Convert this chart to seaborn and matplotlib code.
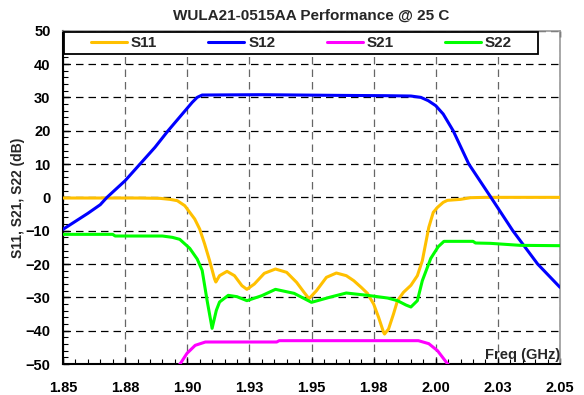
import numpy as np
import pandas as pd
import seaborn as sns
import matplotlib
matplotlib.use("Agg")
import matplotlib.pyplot as plt
from matplotlib.patches import Rectangle
from matplotlib.ticker import MultipleLocator, FixedLocator

# S-parameter data (freq in GHz, value in dB)
s11_freq = [1.85, 1.86, 1.87, 1.88, 1.889, 1.893, 1.896, 1.899, 1.901, 1.903, 1.905,
            1.907, 1.909, 1.911, 1.9115, 1.913, 1.916, 1.919, 1.922, 1.924, 1.927,
            1.931, 1.9355, 1.940, 1.944, 1.947, 1.949, 1.952, 1.956, 1.960, 1.964,
            1.967, 1.970, 1.9725, 1.975, 1.977, 1.979, 1.9794, 1.981, 1.983, 1.9846,
            1.987, 1.990, 1.9926, 1.9946, 1.9972, 1.999, 2.0007, 2.003, 2.0047, 2.01,
            2.014, 2.02, 2.05]
s11_db = [-0.2, -0.2, -0.2, -0.2, -0.3, -0.6, -1.0, -2.5, -4.5, -6.5, -9.5,
          -14, -19, -24.5, -25.4, -23.5, -22.2, -23.5, -26.5, -27.6, -26,
          -22.8, -21.5, -22.5, -25.5, -28.5, -30.4, -28, -24, -22.7, -23.5,
          -25, -27, -28.8, -32, -36, -40.5, -41, -39.5, -35, -31,
          -28.5, -26.4, -23.5, -19, -9, -4.5, -3.0, -1.5, -0.9, -0.6,
          -0.1, 0, 0]

s12_freq = [1.85, 1.855, 1.86, 1.865, 1.8677, 1.875, 1.881, 1.887, 1.8923, 1.898,
            1.902, 1.904, 1.906, 1.93, 1.96, 1.98, 1.99, 1.994, 1.997, 2.0, 2.003,
            2.007, 2.0133, 2.0222, 2.031, 2.041, 2.05]
s12_db = [-9.6, -7.2, -4.8, -2.2, 0, 5, 10, 15, 20, 25,
          28.5, 30, 30.7, 30.8, 30.6, 30.5, 30.4, 30.0, 29, 27.5, 25,
          20, 10, 0, -10, -20, -27]

s21_freq = [1.896, 1.8972, 1.8999, 1.9032, 1.9073, 1.936, 1.937, 1.993, 1.9972,
            2.0007, 2.0047, 2.006]
s21_db = [-51, -49.9, -46.8, -44.4, -43.4, -43.4, -43.0, -43.0, -43.9,
          -46, -49.9, -51]

s22_freq = [1.85, 1.870, 1.871, 1.89, 1.894, 1.897, 1.901, 1.904, 1.906, 1.908,
            1.910, 1.9117, 1.913, 1.9165, 1.920, 1.924, 1.930, 1.9355, 1.943,
            1.950, 1.9577, 1.964, 1.9725, 1.9806, 1.9846, 1.988, 1.990, 1.9926,
            1.9946, 1.998, 2.001, 2.0033, 2.015, 2.016, 2.022, 2.034, 2.05]
s22_db = [-11.1, -11.1, -11.6, -11.6, -12.0, -12.6, -15.3, -18.5, -21.9, -31,
          -39.3, -33.9, -31.4, -29.4, -29.8, -31, -29.5, -27.6, -28.8,
          -31.5, -29.9, -28.7, -29.4, -30.2, -31, -32.3, -32.9, -31,
          -25, -18.3, -14.8, -13.2, -13.2, -13.7, -13.8, -14.4, -14.5]

x_ticks = [1.85, 1.875, 1.9, 1.925, 1.95, 1.975, 2.0, 2.025, 2.05]
x_tick_labels = ["1.85", "1.88", "1.90", "1.93", "1.95", "1.98", "2.00", "2.03", "2.05"]

sns.set_theme(style="white")
plt.rcParams['font.family'] = ['Liberation Sans', 'DejaVu Sans']
plt.rcParams['font.weight'] = 'bold'

fig = plt.figure(figsize=(5.84, 3.95), dpi=100)
ax = fig.add_axes([63/584, 31/395, 497/584, 333.3/395])

series = [("S11", s11_freq, s11_db, "#FFC000"),
          ("S12", s12_freq, s12_db, "#0000FF"),
          ("S21", s21_freq, s21_db, "#FF00FF"),
          ("S22", s22_freq, s22_db, "#00FF00")]

for name, f, v, c in series:
    df = pd.DataFrame({"freq": f, "db": v})
    sns.lineplot(data=df, x="freq", y="db", color=c, linewidth=2.2,
                 label=name, estimator=None, sort=False, ax=ax, zorder=5)

ax.set_xlim(1.85, 2.05)
ax.set_ylim(-50, 50)
ax.xaxis.set_major_locator(FixedLocator(x_ticks))
ax.set_xticklabels(x_tick_labels, fontsize=10.5, fontweight='bold')
ax.xaxis.set_minor_locator(MultipleLocator(0.005))
ax.yaxis.set_major_locator(MultipleLocator(10))
ax.yaxis.set_minor_locator(MultipleLocator(2))
for lab in ax.get_yticklabels():
    lab.set_fontsize(10.5)
    lab.set_fontweight('bold')

ax.tick_params(which='both', direction='in', bottom=True, left=True, colors='black')
ax.tick_params(axis='x', which='major', length=4, width=1, pad=12, top=True)
ax.tick_params(axis='y', which='major', length=4, width=1, pad=9)
ax.tick_params(which='minor', length=3.5, width=0.8)

ax.grid(axis='y', which='major', color='black', linestyle=(0, (6, 4)), linewidth=0.9)
ax.grid(axis='x', which='major', color='0.4', linestyle=(0, (6, 4)), linewidth=0.9)
ax.set_axisbelow(True)

for side in ['left', 'bottom']:
    ax.spines[side].set_color('black')
    ax.spines[side].set_linewidth(1.5)
for side in ['top', 'right']:
    ax.spines[side].set_color('0.6')
    ax.spines[side].set_linewidth(1.2)

ax.set_xlabel('')
ax.set_ylabel('S11, S21, S22 (dB)', fontsize=10, fontweight='bold')
ax.yaxis.set_label_coords(-0.076, 0.5)
ax.set_title('WULA21-0515AA Performance @ 25 C', fontsize=11, fontweight='bold', pad=8)
ax.text(1.0, 0.006, 'Freq (GHz)', transform=ax.transAxes, ha='right', va='bottom',
        fontsize=10.5, fontweight='bold', zorder=6)

# legend: frame box drawn separately, entries placed inside it
ax.add_patch(Rectangle((0.002, 0.931), 0.954, 0.065, transform=ax.transAxes,
                       facecolor='white', edgecolor='black', linewidth=1.3, zorder=4))
leg = ax.legend(loc='center left', bbox_to_anchor=(0.0565, 0.963), ncol=4,
                frameon=False, fontsize=11, handlelength=2.36, handletextpad=0.25,
                columnspacing=3.35, borderpad=0, borderaxespad=0)
leg.set_zorder(6)

plt.savefig("out.png", dpi=100)
